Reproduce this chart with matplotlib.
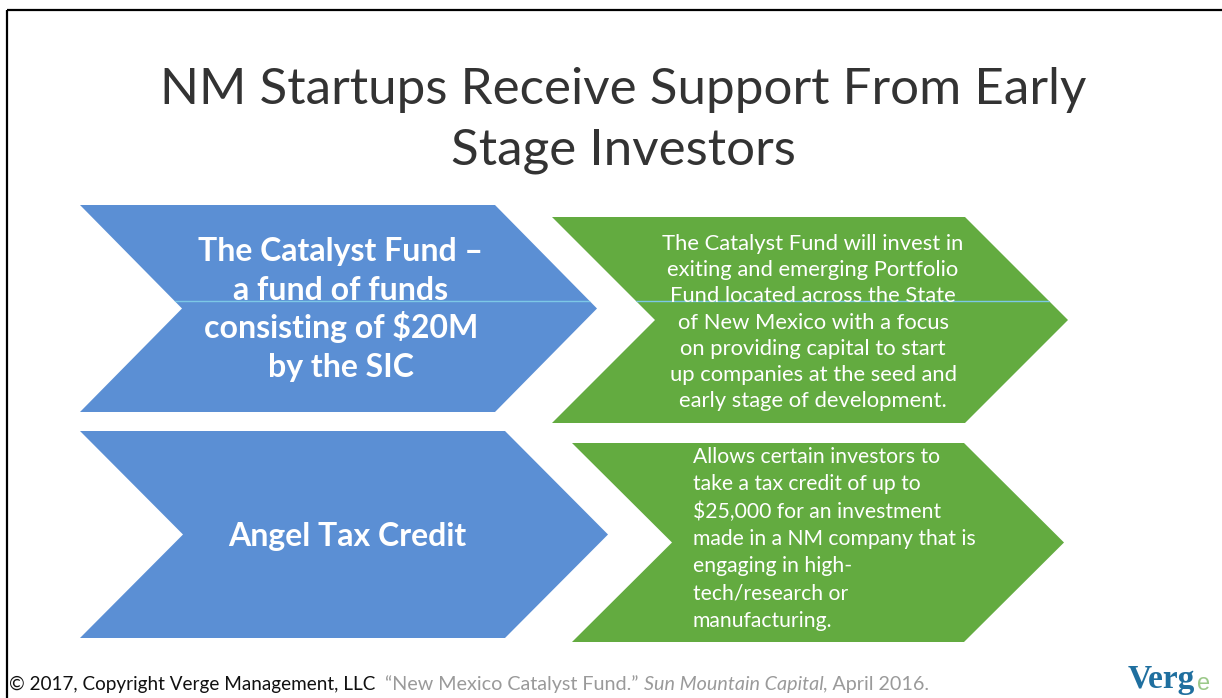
import matplotlib
matplotlib.use("Agg")
import matplotlib.pyplot as plt
from matplotlib.patches import Polygon
from matplotlib.lines import Line2D

# slide content
title_lines = ["NM Startups Receive Support From Early", "Stage Investors"]
left_labels = [
    ["The Catalyst Fund \u2013", "a fund of funds", "consisting of $20M", "by the SIC"],
    ["Angel Tax Credit"],
]
right_labels = [
    ["The Catalyst Fund will invest in", "exiting and emerging Portfolio",
     "Fund located across the State", "of New Mexico with a focus",
     "on providing capital to start", "up companies at the seed and",
     "early stage of development."],
    ["Allows certain investors to", "take a tax credit of up to",
     "$25,000 for an investment", "made in a NM company that is",
     "engaging in high-", "tech/research or", "manufacturing."],
]
copyright_text = "\u00a9 2017, Copyright Verge Management, LLC"
source_parts = ["\u201cNew Mexico Catalyst Fund.\u201d ", "Sun Mountain Capital", ", April 2016."]

BLUE = "#5b8fd4"
GREEN = "#63ab40"
FONT = "Lato"

plt.rcParams["font.family"] = [FONT, "DejaVu Sans"]


def chevron(ax, x0, x1, y0, y1, depth, color):
    ym = (y0 + y1) / 2
    pts = [(x0, y0), (x1 - depth, y0), (x1, ym), (x1 - depth, y1), (x0, y1), (x0 + depth, ym)]
    p = Polygon(pts, closed=True, facecolor=color, edgecolor="none")
    ax.add_patch(p)
    return p


fig = plt.figure(figsize=(12.22, 6.98), dpi=100)
ax = fig.add_axes([0, 0, 1, 1])
ax.set_xlim(0, 1222)
ax.set_ylim(698, 0)
ax.axis("off")

# slide frame (top and left edge)
ax.plot([7, 1222], [10, 10], color="black", lw=1.6, solid_capstyle="butt")
ax.plot([7, 7], [10, 698], color="black", lw=1.6, solid_capstyle="butt")

# title
for i, line in enumerate(title_lines):
    ax.text(623, 104 + i * 60, line, ha="center", va="baseline", fontsize=36.8,
            fontweight="normal", color="#333333")

# chevrons: (x0, x1, y0, y1, depth)
left_boxes = [(80, 597, 205, 412, 102), (80, 608, 431, 638, 103)]
right_boxes = [(552, 1068, 217, 423, 103), (572, 1064, 443, 642, 100)]

patches = []
for (x0, x1, y0, y1, d) in left_boxes:
    patches.append(chevron(ax, x0, x1, y0, y1, d, BLUE))
for (x0, x1, y0, y1, d) in right_boxes:
    patches.append(chevron(ax, x0, x1, y0, y1, d, GREEN))

# thin scan line across the top row
for p in (patches[0], patches[2]):
    ln = Line2D([100, 1100], [301, 301], color="#7cc8e6", lw=1.0)
    ax.add_line(ln)
    ln.set_clip_path(p)

# left (blue) labels, bold and centred
blue_centres = [(341, 308, 38.5), (347, 535, 38.5)]
for lines, (cx, cy, step) in zip(left_labels, blue_centres):
    n = len(lines)
    for i, line in enumerate(lines):
        y = cy + (i - (n - 1) / 2) * step + 11
        ax.text(cx, y, line, ha="center", va="baseline", fontsize=23,
                fontweight="bold", color="white")

# right (green) labels
for i, line in enumerate(right_labels[0]):
    ax.text(813, 250 + i * 26.2, line, ha="center", va="baseline", fontsize=15.8,
            color="white")

for i, line in enumerate(right_labels[1]):
    ax.text(693, 463 + i * 27.3, line, ha="left", va="baseline", fontsize=15.2,
            color="white")

# footer
ax.text(9, 690, copyright_text, ha="left", va="baseline", fontsize=13.6, color="#111111")
t1 = ax.text(385, 690, source_parts[0], ha="left", va="baseline", fontsize=14.2,
             color="#9a9a9a")
t2 = ax.annotate(source_parts[1], xy=(1, 0), xycoords=t1, ha="left", va="bottom",
                 fontsize=14.2, color="#9a9a9a", style="italic")
ax.annotate(source_parts[2], xy=(1, 0), xycoords=t2, ha="left", va="bottom",
            fontsize=14.2, color="#9a9a9a")

# logo fragment at bottom right
lg = ax.text(1128, 688, "Verg", ha="left", va="baseline", fontsize=24,
             fontweight="bold", family="Liberation Serif", color="#1f6f9f")
ax.annotate("e", xy=(1, 0), xycoords=lg, xytext=(1, 0), textcoords="offset points",
            ha="left", va="bottom", fontsize=17, family="Liberation Sans",
            color="#9cc98a")

fig.savefig("out.png", dpi=100)
